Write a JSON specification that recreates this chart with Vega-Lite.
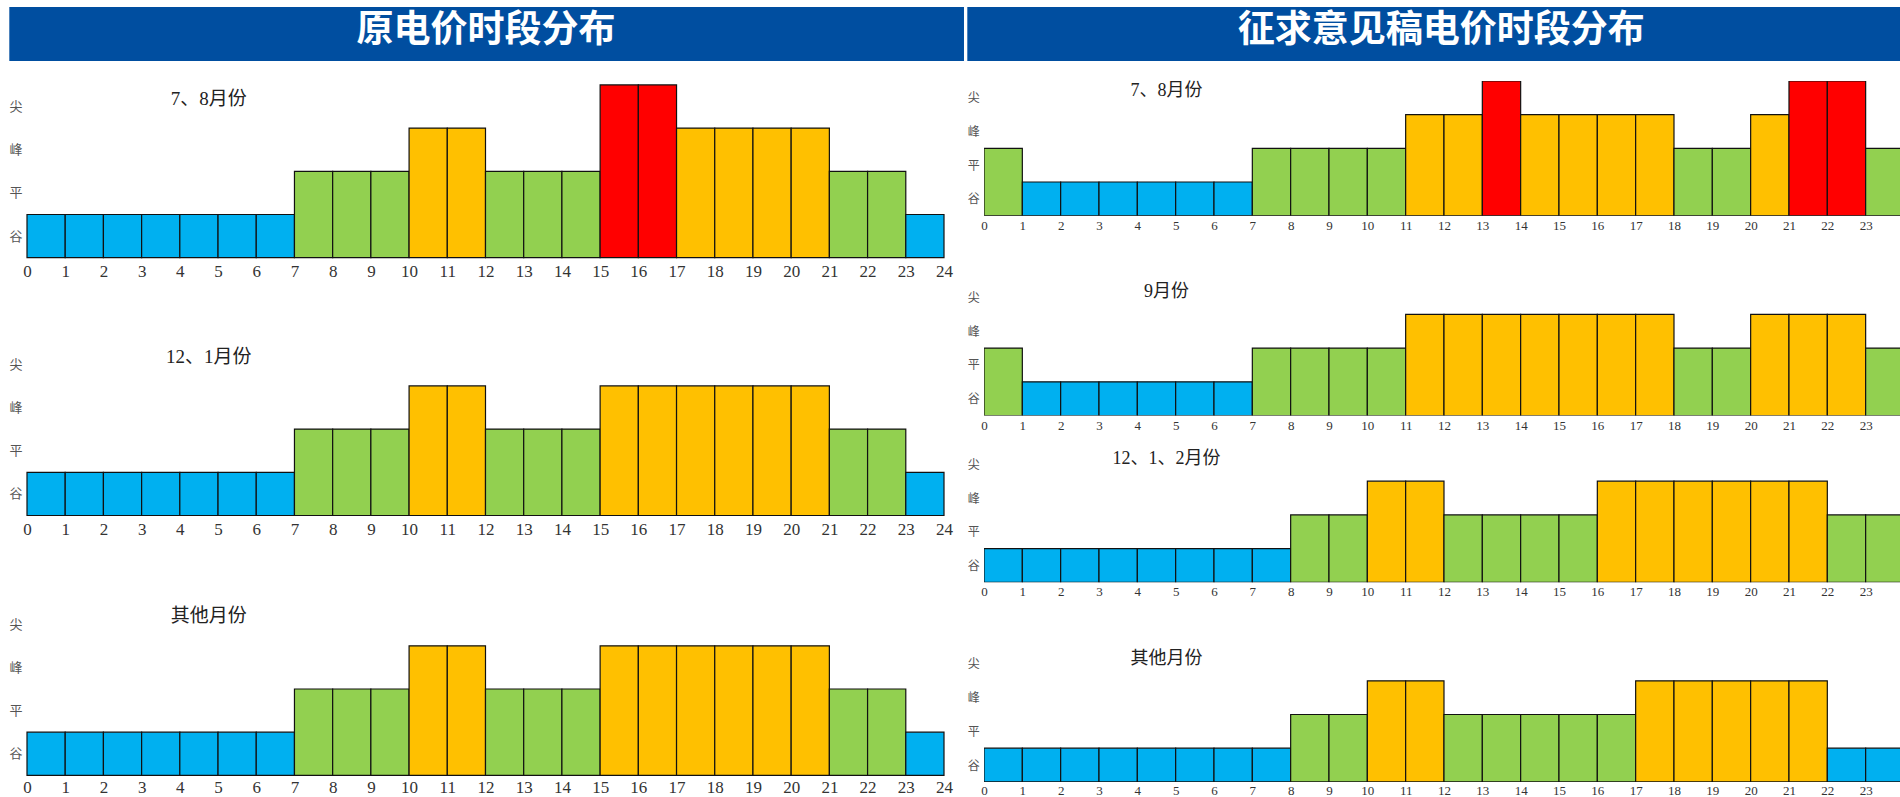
{
  "$schema": "https://vega.github.io/schema/vega-lite/v6.json",
  "padding": {"left": 8, "top": 7, "right": 0, "bottom": 0},
  "autosize": {"type": "pad"},
  "background": "white",
  "config": {
    "view": {"stroke": null},
    "axis": {"grid": false, "domain": false, "ticks": false, "labelOverlap": false, "labelFlush": false, "labelBound": false}
  },
  "datasets": {
    "bars": [
      {"p":"L1","s":0,"e":1,"lv":1},{"p":"L1","s":1,"e":2,"lv":1},{"p":"L1","s":2,"e":3,"lv":1},{"p":"L1","s":3,"e":4,"lv":1},{"p":"L1","s":4,"e":5,"lv":1},{"p":"L1","s":5,"e":6,"lv":1},{"p":"L1","s":6,"e":7,"lv":1},{"p":"L1","s":7,"e":8,"lv":2},{"p":"L1","s":8,"e":9,"lv":2},{"p":"L1","s":9,"e":10,"lv":2},{"p":"L1","s":10,"e":11,"lv":3},{"p":"L1","s":11,"e":12,"lv":3},{"p":"L1","s":12,"e":13,"lv":2},{"p":"L1","s":13,"e":14,"lv":2},{"p":"L1","s":14,"e":15,"lv":2},{"p":"L1","s":15,"e":16,"lv":4},{"p":"L1","s":16,"e":17,"lv":4},{"p":"L1","s":17,"e":18,"lv":3},{"p":"L1","s":18,"e":19,"lv":3},{"p":"L1","s":19,"e":20,"lv":3},{"p":"L1","s":20,"e":21,"lv":3},{"p":"L1","s":21,"e":22,"lv":2},{"p":"L1","s":22,"e":23,"lv":2},{"p":"L1","s":23,"e":24,"lv":1},
      {"p":"L2","s":0,"e":1,"lv":1},{"p":"L2","s":1,"e":2,"lv":1},{"p":"L2","s":2,"e":3,"lv":1},{"p":"L2","s":3,"e":4,"lv":1},{"p":"L2","s":4,"e":5,"lv":1},{"p":"L2","s":5,"e":6,"lv":1},{"p":"L2","s":6,"e":7,"lv":1},{"p":"L2","s":7,"e":8,"lv":2},{"p":"L2","s":8,"e":9,"lv":2},{"p":"L2","s":9,"e":10,"lv":2},{"p":"L2","s":10,"e":11,"lv":3},{"p":"L2","s":11,"e":12,"lv":3},{"p":"L2","s":12,"e":13,"lv":2},{"p":"L2","s":13,"e":14,"lv":2},{"p":"L2","s":14,"e":15,"lv":2},{"p":"L2","s":15,"e":16,"lv":3},{"p":"L2","s":16,"e":17,"lv":3},{"p":"L2","s":17,"e":18,"lv":3},{"p":"L2","s":18,"e":19,"lv":3},{"p":"L2","s":19,"e":20,"lv":3},{"p":"L2","s":20,"e":21,"lv":3},{"p":"L2","s":21,"e":22,"lv":2},{"p":"L2","s":22,"e":23,"lv":2},{"p":"L2","s":23,"e":24,"lv":1},
      {"p":"L3","s":0,"e":1,"lv":1},{"p":"L3","s":1,"e":2,"lv":1},{"p":"L3","s":2,"e":3,"lv":1},{"p":"L3","s":3,"e":4,"lv":1},{"p":"L3","s":4,"e":5,"lv":1},{"p":"L3","s":5,"e":6,"lv":1},{"p":"L3","s":6,"e":7,"lv":1},{"p":"L3","s":7,"e":8,"lv":2},{"p":"L3","s":8,"e":9,"lv":2},{"p":"L3","s":9,"e":10,"lv":2},{"p":"L3","s":10,"e":11,"lv":3},{"p":"L3","s":11,"e":12,"lv":3},{"p":"L3","s":12,"e":13,"lv":2},{"p":"L3","s":13,"e":14,"lv":2},{"p":"L3","s":14,"e":15,"lv":2},{"p":"L3","s":15,"e":16,"lv":3},{"p":"L3","s":16,"e":17,"lv":3},{"p":"L3","s":17,"e":18,"lv":3},{"p":"L3","s":18,"e":19,"lv":3},{"p":"L3","s":19,"e":20,"lv":3},{"p":"L3","s":20,"e":21,"lv":3},{"p":"L3","s":21,"e":22,"lv":2},{"p":"L3","s":22,"e":23,"lv":2},{"p":"L3","s":23,"e":24,"lv":1},
      {"p":"R1","s":0,"e":1,"lv":2},{"p":"R1","s":1,"e":2,"lv":1},{"p":"R1","s":2,"e":3,"lv":1},{"p":"R1","s":3,"e":4,"lv":1},{"p":"R1","s":4,"e":5,"lv":1},{"p":"R1","s":5,"e":6,"lv":1},{"p":"R1","s":6,"e":7,"lv":1},{"p":"R1","s":7,"e":8,"lv":2},{"p":"R1","s":8,"e":9,"lv":2},{"p":"R1","s":9,"e":10,"lv":2},{"p":"R1","s":10,"e":11,"lv":2},{"p":"R1","s":11,"e":12,"lv":3},{"p":"R1","s":12,"e":13,"lv":3},{"p":"R1","s":13,"e":14,"lv":4},{"p":"R1","s":14,"e":15,"lv":3},{"p":"R1","s":15,"e":16,"lv":3},{"p":"R1","s":16,"e":17,"lv":3},{"p":"R1","s":17,"e":18,"lv":3},{"p":"R1","s":18,"e":19,"lv":2},{"p":"R1","s":19,"e":20,"lv":2},{"p":"R1","s":20,"e":21,"lv":3},{"p":"R1","s":21,"e":22,"lv":4},{"p":"R1","s":22,"e":23,"lv":4},{"p":"R1","s":23,"e":24,"lv":2},
      {"p":"R2","s":0,"e":1,"lv":2},{"p":"R2","s":1,"e":2,"lv":1},{"p":"R2","s":2,"e":3,"lv":1},{"p":"R2","s":3,"e":4,"lv":1},{"p":"R2","s":4,"e":5,"lv":1},{"p":"R2","s":5,"e":6,"lv":1},{"p":"R2","s":6,"e":7,"lv":1},{"p":"R2","s":7,"e":8,"lv":2},{"p":"R2","s":8,"e":9,"lv":2},{"p":"R2","s":9,"e":10,"lv":2},{"p":"R2","s":10,"e":11,"lv":2},{"p":"R2","s":11,"e":12,"lv":3},{"p":"R2","s":12,"e":13,"lv":3},{"p":"R2","s":13,"e":14,"lv":3},{"p":"R2","s":14,"e":15,"lv":3},{"p":"R2","s":15,"e":16,"lv":3},{"p":"R2","s":16,"e":17,"lv":3},{"p":"R2","s":17,"e":18,"lv":3},{"p":"R2","s":18,"e":19,"lv":2},{"p":"R2","s":19,"e":20,"lv":2},{"p":"R2","s":20,"e":21,"lv":3},{"p":"R2","s":21,"e":22,"lv":3},{"p":"R2","s":22,"e":23,"lv":3},{"p":"R2","s":23,"e":24,"lv":2},
      {"p":"R3","s":0,"e":1,"lv":1},{"p":"R3","s":1,"e":2,"lv":1},{"p":"R3","s":2,"e":3,"lv":1},{"p":"R3","s":3,"e":4,"lv":1},{"p":"R3","s":4,"e":5,"lv":1},{"p":"R3","s":5,"e":6,"lv":1},{"p":"R3","s":6,"e":7,"lv":1},{"p":"R3","s":7,"e":8,"lv":1},{"p":"R3","s":8,"e":9,"lv":2},{"p":"R3","s":9,"e":10,"lv":2},{"p":"R3","s":10,"e":11,"lv":3},{"p":"R3","s":11,"e":12,"lv":3},{"p":"R3","s":12,"e":13,"lv":2},{"p":"R3","s":13,"e":14,"lv":2},{"p":"R3","s":14,"e":15,"lv":2},{"p":"R3","s":15,"e":16,"lv":2},{"p":"R3","s":16,"e":17,"lv":3},{"p":"R3","s":17,"e":18,"lv":3},{"p":"R3","s":18,"e":19,"lv":3},{"p":"R3","s":19,"e":20,"lv":3},{"p":"R3","s":20,"e":21,"lv":3},{"p":"R3","s":21,"e":22,"lv":3},{"p":"R3","s":22,"e":23,"lv":2},{"p":"R3","s":23,"e":24,"lv":2},
      {"p":"R4","s":0,"e":1,"lv":1},{"p":"R4","s":1,"e":2,"lv":1},{"p":"R4","s":2,"e":3,"lv":1},{"p":"R4","s":3,"e":4,"lv":1},{"p":"R4","s":4,"e":5,"lv":1},{"p":"R4","s":5,"e":6,"lv":1},{"p":"R4","s":6,"e":7,"lv":1},{"p":"R4","s":7,"e":8,"lv":1},{"p":"R4","s":8,"e":9,"lv":2},{"p":"R4","s":9,"e":10,"lv":2},{"p":"R4","s":10,"e":11,"lv":3},{"p":"R4","s":11,"e":12,"lv":3},{"p":"R4","s":12,"e":13,"lv":2},{"p":"R4","s":13,"e":14,"lv":2},{"p":"R4","s":14,"e":15,"lv":2},{"p":"R4","s":15,"e":16,"lv":2},{"p":"R4","s":16,"e":17,"lv":2},{"p":"R4","s":17,"e":18,"lv":3},{"p":"R4","s":18,"e":19,"lv":3},{"p":"R4","s":19,"e":20,"lv":3},{"p":"R4","s":20,"e":21,"lv":3},{"p":"R4","s":21,"e":22,"lv":3},{"p":"R4","s":22,"e":23,"lv":1},{"p":"R4","s":23,"e":24,"lv":1}
    ]
  },
  "hconcat": [
    {
      "spacing": 22.9,
      "vconcat": [
        {
          "width": 917, "height": 54,
          "data": {"values": [{"h": "原电价时段分布"}]},
          "layer": [
            {
              "mark": {"type": "rect", "color": "#004EA0"},
              "encoding": {
                "x": {"datum": -0.0193, "type": "quantitative", "scale": {"domain": [0, 1], "nice": false, "zero": false}, "axis": null},
                "x2": {"datum": 1.0218},
                "y": {"datum": 0, "type": "quantitative", "scale": {"domain": [0, 1], "nice": false}, "axis": null},
                "y2": {"datum": 1}
              }
            },
            {
              "mark": {"type": "text", "font": "Noto Sans CJK SC", "fontWeight": "bold", "fontSize": 37, "color": "white", "align": "center", "baseline": "middle"},
              "encoding": {
                "x": {"datum": 0.5005, "type": "quantitative", "axis": null},
                "y": {"datum": 0.56, "type": "quantitative", "axis": null},
                "text": {"field": "h"}
              }
            }
          ]
        },
        {
          "bounds": "flush",
          "spacing": 84.8,
          "vconcat": [
            {
              "width": 917, "height": 172.8,
              "layer": [
                {
                  "data": {"name": "bars"},
                  "transform": [{"filter": "datum.p === 'L1'"}],
                  "mark": {"type": "rect", "stroke": "#111", "strokeWidth": 1.2},
                  "encoding": {
                    "x": {"field": "s", "type": "quantitative", "title": null, "scale": {"domain": [0, 24], "nice": false, "zero": false}, "axis": {"values": [0,1,2,3,4,5,6,7,8,9,10,11,12,13,14,15,16,17,18,19,20,21,22,23,24], "labelFont": "Liberation Serif", "labelFontSize": 17, "labelColor": "#333", "labelPadding": 5.5}},
                    "x2": {"field": "e"},
                    "y": {"field": "lv", "type": "quantitative", "title": null, "scale": {"domain": [0, 4], "nice": false}, "axis": {"values": [0.5, 1.5, 2.5, 3.5], "labelExpr": "['谷','平','峰','尖'][floor(datum.value)]", "labelFont": "Noto Sans CJK SC", "labelFontSize": 13, "labelColor": "#555", "labelPadding": 5}},
                    "y2": {"datum": 0},
                    "color": {"field": "lv", "type": "ordinal", "scale": {"domain": [1, 2, 3, 4], "range": ["#00B0F0", "#92D050", "#FFC000", "#FF0000"]}, "legend": null}
                  }
                },
                {
                  "data": {"values": [{"label": "7、8月份"}]},
                  "mark": {"type": "text", "font": "'Liberation Serif', 'Noto Sans CJK SC'", "fontSize": 19, "color": "#222", "align": "center", "baseline": "middle"},
                  "encoding": {
                    "x": {"datum": 4.76, "type": "quantitative", "title": null, "axis": {"values": [0,1,2,3,4,5,6,7,8,9,10,11,12,13,14,15,16,17,18,19,20,21,22,23,24], "labelFont": "Liberation Serif", "labelFontSize": 17, "labelColor": "#333", "labelPadding": 5.5}},
                    "y": {"datum": 3.68, "type": "quantitative", "title": null, "axis": {"values": [0.5, 1.5, 2.5, 3.5], "labelExpr": "['谷','平','峰','尖'][floor(datum.value)]", "labelFont": "Noto Sans CJK SC", "labelFontSize": 13, "labelColor": "#555", "labelPadding": 5}},
                    "text": {"field": "label"}
                  }
                }
              ]
            },
            {
              "width": 917, "height": 172.8,
              "layer": [
                {
                  "data": {"name": "bars"},
                  "transform": [{"filter": "datum.p === 'L2'"}],
                  "mark": {"type": "rect", "stroke": "#111", "strokeWidth": 1.2},
                  "encoding": {
                    "x": {"field": "s", "type": "quantitative", "title": null, "scale": {"domain": [0, 24], "nice": false, "zero": false}, "axis": {"values": [0,1,2,3,4,5,6,7,8,9,10,11,12,13,14,15,16,17,18,19,20,21,22,23,24], "labelFont": "Liberation Serif", "labelFontSize": 17, "labelColor": "#333", "labelPadding": 5.5}},
                    "x2": {"field": "e"},
                    "y": {"field": "lv", "type": "quantitative", "title": null, "scale": {"domain": [0, 4], "nice": false}, "axis": {"values": [0.5, 1.5, 2.5, 3.5], "labelExpr": "['谷','平','峰','尖'][floor(datum.value)]", "labelFont": "Noto Sans CJK SC", "labelFontSize": 13, "labelColor": "#555", "labelPadding": 5}},
                    "y2": {"datum": 0},
                    "color": {"field": "lv", "type": "ordinal", "scale": {"domain": [1, 2, 3, 4], "range": ["#00B0F0", "#92D050", "#FFC000", "#FF0000"]}, "legend": null}
                  }
                },
                {
                  "data": {"values": [{"label": "12、1月份"}]},
                  "mark": {"type": "text", "font": "'Liberation Serif', 'Noto Sans CJK SC'", "fontSize": 19, "color": "#222", "align": "center", "baseline": "middle"},
                  "encoding": {
                    "x": {"datum": 4.76, "type": "quantitative", "title": null, "axis": {"values": [0,1,2,3,4,5,6,7,8,9,10,11,12,13,14,15,16,17,18,19,20,21,22,23,24], "labelFont": "Liberation Serif", "labelFontSize": 17, "labelColor": "#333", "labelPadding": 5.5}},
                    "y": {"datum": 3.66, "type": "quantitative", "title": null, "axis": {"values": [0.5, 1.5, 2.5, 3.5], "labelExpr": "['谷','平','峰','尖'][floor(datum.value)]", "labelFont": "Noto Sans CJK SC", "labelFontSize": 13, "labelColor": "#555", "labelPadding": 5}},
                    "text": {"field": "label"}
                  }
                }
              ]
            },
            {
              "width": 917, "height": 174.9,
              "layer": [
                {
                  "data": {"name": "bars"},
                  "transform": [{"filter": "datum.p === 'L3'"}],
                  "mark": {"type": "rect", "stroke": "#111", "strokeWidth": 1.2},
                  "encoding": {
                    "x": {"field": "s", "type": "quantitative", "title": null, "scale": {"domain": [0, 24], "nice": false, "zero": false}, "axis": {"values": [0,1,2,3,4,5,6,7,8,9,10,11,12,13,14,15,16,17,18,19,20,21,22,23,24], "labelFont": "Liberation Serif", "labelFontSize": 17, "labelColor": "#333", "labelPadding": 4.5}},
                    "x2": {"field": "e"},
                    "y": {"field": "lv", "type": "quantitative", "title": null, "scale": {"domain": [0, 4.049], "nice": false}, "axis": {"values": [0.5, 1.5, 2.5, 3.5], "labelExpr": "['谷','平','峰','尖'][floor(datum.value)]", "labelFont": "Noto Sans CJK SC", "labelFontSize": 13, "labelColor": "#555", "labelPadding": 5}},
                    "y2": {"datum": 0},
                    "color": {"field": "lv", "type": "ordinal", "scale": {"domain": [1, 2, 3, 4], "range": ["#00B0F0", "#92D050", "#FFC000", "#FF0000"]}, "legend": null}
                  }
                },
                {
                  "data": {"values": [{"label": "其他月份"}]},
                  "mark": {"type": "text", "font": "'Liberation Serif', 'Noto Sans CJK SC'", "fontSize": 19, "color": "#222", "align": "center", "baseline": "middle"},
                  "encoding": {
                    "x": {"datum": 4.76, "type": "quantitative", "title": null, "axis": {"values": [0,1,2,3,4,5,6,7,8,9,10,11,12,13,14,15,16,17,18,19,20,21,22,23,24], "labelFont": "Liberation Serif", "labelFontSize": 17, "labelColor": "#333", "labelPadding": 4.5}},
                    "y": {"datum": 3.68, "type": "quantitative", "title": null, "axis": {"values": [0.5, 1.5, 2.5, 3.5], "labelExpr": "['谷','平','峰','尖'][floor(datum.value)]", "labelFont": "Noto Sans CJK SC", "labelFontSize": 13, "labelColor": "#555", "labelPadding": 5}},
                    "text": {"field": "label"}
                  }
                }
              ]
            }
          ]
        }
      ]
    },
    {
      "spacing": 19.9,
      "vconcat": [
        {
          "width": 917.3, "height": 54,
          "data": {"values": [{"h": "征求意见稿电价时段分布"}]},
          "layer": [
            {
              "mark": {"type": "rect", "color": "#004EA0"},
              "encoding": {
                "x": {"datum": -0.0182, "type": "quantitative", "scale": {"domain": [0, 1], "nice": false, "zero": false}, "axis": null},
                "x2": {"datum": 1},
                "y": {"datum": 0, "type": "quantitative", "scale": {"domain": [0, 1], "nice": false}, "axis": null},
                "y2": {"datum": 1}
              }
            },
            {
              "mark": {"type": "text", "font": "Noto Sans CJK SC", "fontWeight": "bold", "fontSize": 37, "color": "white", "align": "center", "baseline": "middle"},
              "encoding": {
                "x": {"datum": 0.4985, "type": "quantitative", "axis": null},
                "y": {"datum": 0.56, "type": "quantitative", "axis": null},
                "text": {"field": "h"}
              }
            }
          ]
        },
        {
          "bounds": "flush",
          "spacing": 31,
          "vconcat": [
            {
              "width": 917.3, "height": 134.8,
              "layer": [
                {
                  "data": {"name": "bars"},
                  "transform": [{"filter": "datum.p === 'R1'"}],
                  "mark": {"type": "rect", "stroke": "#111", "strokeWidth": 1.2, "clip": true},
                  "encoding": {
                    "x": {"field": "s", "type": "quantitative", "title": null, "scale": {"domain": [0, 23.93], "nice": false, "zero": false}, "axis": {"values": [0,1,2,3,4,5,6,7,8,9,10,11,12,13,14,15,16,17,18,19,20,21,22,23], "labelFont": "Liberation Serif", "labelFontSize": 13, "labelColor": "#333", "labelPadding": 3.5}},
                    "x2": {"field": "e"},
                    "y": {"field": "lv", "type": "quantitative", "title": null, "scale": {"domain": [0, 4], "nice": false}, "axis": {"values": [0.5, 1.5, 2.5, 3.5], "labelExpr": "['谷','平','峰','尖'][floor(datum.value)]", "labelFont": "Noto Sans CJK SC", "labelFontSize": 12, "labelColor": "#555", "labelPadding": 4.7}},
                    "y2": {"datum": 0},
                    "color": {"field": "lv", "type": "ordinal", "scale": {"domain": [1, 2, 3, 4], "range": ["#00B0F0", "#92D050", "#FFC000", "#FF0000"]}, "legend": null}
                  }
                },
                {
                  "data": {"values": [{"label": "7、8月份"}]},
                  "mark": {"type": "text", "font": "'Liberation Serif', 'Noto Sans CJK SC'", "fontSize": 18, "color": "#222", "align": "center", "baseline": "middle"},
                  "encoding": {
                    "x": {"datum": 4.76, "type": "quantitative", "title": null, "axis": {"values": [0,1,2,3,4,5,6,7,8,9,10,11,12,13,14,15,16,17,18,19,20,21,22,23], "labelFont": "Liberation Serif", "labelFontSize": 13, "labelColor": "#333", "labelPadding": 3.5}},
                    "y": {"datum": 3.71, "type": "quantitative", "title": null, "axis": {"values": [0.5, 1.5, 2.5, 3.5], "labelExpr": "['谷','平','峰','尖'][floor(datum.value)]", "labelFont": "Noto Sans CJK SC", "labelFontSize": 12, "labelColor": "#555", "labelPadding": 4.7}},
                    "text": {"field": "label"}
                  }
                }
              ]
            },
            {
              "width": 917.3, "height": 168.6,
              "layer": [
                {
                  "data": {"name": "bars"},
                  "transform": [{"filter": "datum.p === 'R2'"}],
                  "mark": {"type": "rect", "stroke": "#111", "strokeWidth": 1.2, "clip": true},
                  "encoding": {
                    "x": {"field": "s", "type": "quantitative", "title": null, "scale": {"domain": [0, 23.93], "nice": false, "zero": false}, "axis": {"values": [0,1,2,3,4,5,6,7,8,9,10,11,12,13,14,15,16,17,18,19,20,21,22,23], "labelFont": "Liberation Serif", "labelFontSize": 13, "labelColor": "#333", "labelPadding": 3.5}},
                    "x2": {"field": "e"},
                    "y": {"field": "lv", "type": "quantitative", "title": null, "scale": {"domain": [0, 5.003], "nice": false}, "axis": {"values": [0.5, 1.5, 2.5, 3.5], "labelExpr": "['谷','平','峰','尖'][floor(datum.value)]", "labelFont": "Noto Sans CJK SC", "labelFontSize": 12, "labelColor": "#555", "labelPadding": 4.7}},
                    "y2": {"datum": 0},
                    "color": {"field": "lv", "type": "ordinal", "scale": {"domain": [1, 2, 3, 4], "range": ["#00B0F0", "#92D050", "#FFC000", "#FF0000"]}, "legend": null}
                  }
                },
                {
                  "data": {"values": [{"label": "9月份"}]},
                  "mark": {"type": "text", "font": "'Liberation Serif', 'Noto Sans CJK SC'", "fontSize": 18, "color": "#222", "align": "center", "baseline": "middle"},
                  "encoding": {
                    "x": {"datum": 4.76, "type": "quantitative", "title": null, "axis": {"values": [0,1,2,3,4,5,6,7,8,9,10,11,12,13,14,15,16,17,18,19,20,21,22,23], "labelFont": "Liberation Serif", "labelFontSize": 13, "labelColor": "#333", "labelPadding": 3.5}},
                    "y": {"datum": 3.67, "type": "quantitative", "title": null, "axis": {"values": [0.5, 1.5, 2.5, 3.5], "labelExpr": "['谷','平','峰','尖'][floor(datum.value)]", "labelFont": "Noto Sans CJK SC", "labelFontSize": 12, "labelColor": "#555", "labelPadding": 4.7}},
                    "text": {"field": "label"}
                  }
                }
              ]
            },
            {
              "width": 917.3, "height": 135.4,
              "layer": [
                {
                  "data": {"name": "bars"},
                  "transform": [{"filter": "datum.p === 'R3'"}],
                  "mark": {"type": "rect", "stroke": "#111", "strokeWidth": 1.2, "clip": true},
                  "encoding": {
                    "x": {"field": "s", "type": "quantitative", "title": null, "scale": {"domain": [0, 23.93], "nice": false, "zero": false}, "axis": {"values": [0,1,2,3,4,5,6,7,8,9,10,11,12,13,14,15,16,17,18,19,20,21,22,23], "labelFont": "Liberation Serif", "labelFontSize": 13, "labelColor": "#333", "labelPadding": 3.5}},
                    "x2": {"field": "e"},
                    "y": {"field": "lv", "type": "quantitative", "title": null, "scale": {"domain": [0, 4.018], "nice": false}, "axis": {"values": [0.5, 1.5, 2.5, 3.5], "labelExpr": "['谷','平','峰','尖'][floor(datum.value)]", "labelFont": "Noto Sans CJK SC", "labelFontSize": 12, "labelColor": "#555", "labelPadding": 4.7}},
                    "y2": {"datum": 0},
                    "color": {"field": "lv", "type": "ordinal", "scale": {"domain": [1, 2, 3, 4], "range": ["#00B0F0", "#92D050", "#FFC000", "#FF0000"]}, "legend": null}
                  }
                },
                {
                  "data": {"values": [{"label": "12、1、2月份"}]},
                  "mark": {"type": "text", "font": "'Liberation Serif', 'Noto Sans CJK SC'", "fontSize": 18, "color": "#222", "align": "center", "baseline": "middle"},
                  "encoding": {
                    "x": {"datum": 4.76, "type": "quantitative", "title": null, "axis": {"values": [0,1,2,3,4,5,6,7,8,9,10,11,12,13,14,15,16,17,18,19,20,21,22,23], "labelFont": "Liberation Serif", "labelFontSize": 13, "labelColor": "#333", "labelPadding": 3.5}},
                    "y": {"datum": 3.67, "type": "quantitative", "title": null, "axis": {"values": [0.5, 1.5, 2.5, 3.5], "labelExpr": "['谷','平','峰','尖'][floor(datum.value)]", "labelFont": "Noto Sans CJK SC", "labelFontSize": 12, "labelColor": "#555", "labelPadding": 4.7}},
                    "text": {"field": "label"}
                  }
                }
              ]
            },
            {
              "width": 917.3, "height": 168,
              "layer": [
                {
                  "data": {"name": "bars"},
                  "transform": [{"filter": "datum.p === 'R4'"}],
                  "mark": {"type": "rect", "stroke": "#111", "strokeWidth": 1.2, "clip": true},
                  "encoding": {
                    "x": {"field": "s", "type": "quantitative", "title": null, "scale": {"domain": [0, 23.93], "nice": false, "zero": false}, "axis": {"values": [0,1,2,3,4,5,6,7,8,9,10,11,12,13,14,15,16,17,18,19,20,21,22,23], "labelFont": "Liberation Serif", "labelFontSize": 13, "labelColor": "#333", "labelPadding": 3}},
                    "x2": {"field": "e"},
                    "y": {"field": "lv", "type": "quantitative", "title": null, "scale": {"domain": [0, 4.985], "nice": false}, "axis": {"values": [0.5, 1.5, 2.5, 3.5], "labelExpr": "['谷','平','峰','尖'][floor(datum.value)]", "labelFont": "Noto Sans CJK SC", "labelFontSize": 12, "labelColor": "#555", "labelPadding": 4.7}},
                    "y2": {"datum": 0},
                    "color": {"field": "lv", "type": "ordinal", "scale": {"domain": [1, 2, 3, 4], "range": ["#00B0F0", "#92D050", "#FFC000", "#FF0000"]}, "legend": null}
                  }
                },
                {
                  "data": {"values": [{"label": "其他月份"}]},
                  "mark": {"type": "text", "font": "'Liberation Serif', 'Noto Sans CJK SC'", "fontSize": 18, "color": "#222", "align": "center", "baseline": "middle"},
                  "encoding": {
                    "x": {"datum": 4.76, "type": "quantitative", "title": null, "axis": {"values": [0,1,2,3,4,5,6,7,8,9,10,11,12,13,14,15,16,17,18,19,20,21,22,23], "labelFont": "Liberation Serif", "labelFontSize": 13, "labelColor": "#333", "labelPadding": 3}},
                    "y": {"datum": 3.66, "type": "quantitative", "title": null, "axis": {"values": [0.5, 1.5, 2.5, 3.5], "labelExpr": "['谷','平','峰','尖'][floor(datum.value)]", "labelFont": "Noto Sans CJK SC", "labelFontSize": 12, "labelColor": "#555", "labelPadding": 4.7}},
                    "text": {"field": "label"}
                  }
                }
              ]
            }
          ]
        }
      ]
    }
  ],
  "spacing": 3
}
